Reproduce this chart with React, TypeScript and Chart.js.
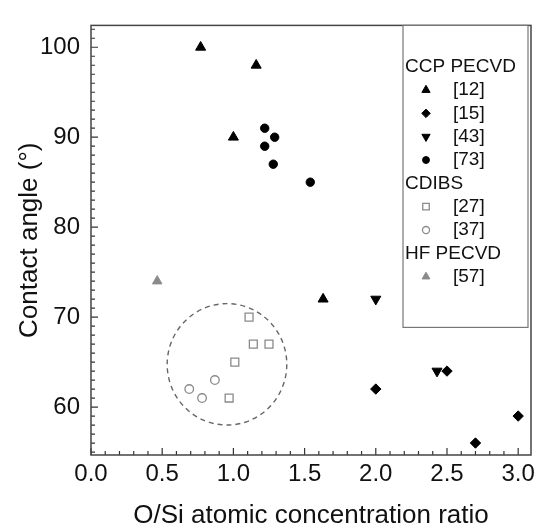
import { useEffect, useRef } from "react";
import { Chart, registerables } from "chart.js";
import { drawPoint } from "chart.js/helpers";

Chart.register(...registerables);

const FONT = "'Liberation Sans', Arial, sans-serif";

// Axis ticks
const xTickValues = [0, 0.5, 1.0, 1.5, 2.0, 2.5, 3.0];
const yTickValues = [60, 70, 80, 90, 100];
const xRange = [0, 3.09];
const yRange = [54.67, 102.43];

// Series values [O/Si ratio, contact angle]
const ccp12: [number, number][] = [[0.77, 100], [1.16, 98], [1.0, 90], [1.63, 72]];
const ccp15: [number, number][] = [[2.5, 64], [2.0, 62], [3.0, 59], [2.7, 56]];
const ccp43: [number, number][] = [[2.0, 72], [2.43, 64]];
const ccp73: [number, number][] = [[1.22, 91], [1.29, 90], [1.22, 89], [1.28, 87], [1.54, 85]];
const cdibs27: [number, number][] = [[1.11, 70], [1.14, 67], [1.25, 67], [1.01, 65], [0.97, 61]];
const cdibs37: [number, number][] = [[0.87, 63], [0.69, 62], [0.78, 61]];
const hf57: [number, number][] = [[0.465, 74]];

// Dashed cluster outline (centre and radii in data units)
const clusterCenter = [0.955, 64.75];
const clusterRadius = [0.42, 6.75];

// Legend text
const legendGroups = [
  { title: "CCP PECVD", refs: ["[12]", "[15]", "[43]", "[73]"] },
  { title: "CDIBS", refs: ["[27]", "[37]"] },
  { title: "HF PECVD", refs: ["[57]"] },
];

const GRAY = "#8a8a8a";

type Style = { pointStyle: string; radius: number; rotation: number; fill: string; stroke: string; borderWidth: number };

const styles: Record<string, Style> = {
  "[12]": { pointStyle: "triangle", radius: 5.8, rotation: 0, fill: "#000", stroke: "#000", borderWidth: 1 },
  "[15]": { pointStyle: "rectRot", radius: 5.2, rotation: 0, fill: "#000", stroke: "#000", borderWidth: 1 },
  "[43]": { pointStyle: "triangle", radius: 5.8, rotation: 180, fill: "#000", stroke: "#000", borderWidth: 1 },
  "[73]": { pointStyle: "circle", radius: 4.2, rotation: 0, fill: "#000", stroke: "#000", borderWidth: 1 },
  "[27]": { pointStyle: "rect", radius: 5.6, rotation: 0, fill: "#fff", stroke: GRAY, borderWidth: 1.3 },
  "[37]": { pointStyle: "circle", radius: 4.3, rotation: 0, fill: "#fff", stroke: GRAY, borderWidth: 1.3 },
  "[57]": { pointStyle: "triangle", radius: 5.5, rotation: 0, fill: GRAY, stroke: GRAY, borderWidth: 1 },
};

const seriesData: Record<string, [number, number][]> = {
  "[12]": ccp12,
  "[15]": ccp15,
  "[43]": ccp43,
  "[73]": ccp73,
  "[27]": cdibs27,
  "[37]": cdibs37,
  "[57]": hf57,
};

const framePlugin = {
  id: "frameTicks",
  beforeDatasetsDraw(chart: any) {
    const { ctx, chartArea, scales } = chart;
    // cluster ellipse
    const cx = scales.x.getPixelForValue(clusterCenter[0]);
    const cy = scales.y.getPixelForValue(clusterCenter[1]);
    const rx = Math.abs(scales.x.getPixelForValue(clusterCenter[0] + clusterRadius[0]) - cx);
    const ry = Math.abs(scales.y.getPixelForValue(clusterCenter[1] + clusterRadius[1]) - cy);
    ctx.save();
    ctx.strokeStyle = "#666";
    ctx.lineWidth = 1.4;
    ctx.setLineDash([5, 4]);
    ctx.beginPath();
    ctx.ellipse(cx, cy, rx, ry, 0, 0, Math.PI * 2);
    ctx.stroke();
    ctx.restore();
  },
  afterDraw(chart: any) {
    const { ctx, chartArea, scales } = chart;
    const { left, right, top, bottom } = chartArea;
    ctx.save();
    // inward ticks
    ctx.strokeStyle = "#333";
    ctx.lineWidth = 1.2;
    ctx.beginPath();
    for (let i = 0; i <= 31; i++) {
      const v = i / 10;
      if (v > xRange[1]) break;
      const px = scales.x.getPixelForValue(v);
      const len = i % 5 === 0 ? 7 : 4;
      ctx.moveTo(px, bottom);
      ctx.lineTo(px, bottom - len);
    }
    for (let v = Math.ceil(yRange[0]); v <= yRange[1]; v++) {
      const py = scales.y.getPixelForValue(v);
      const len = v % 10 === 0 ? 7 : 4;
      ctx.moveTo(left, py);
      ctx.lineTo(left + len, py);
    }
    ctx.stroke();
    // frame
    ctx.strokeStyle = "#444";
    ctx.lineWidth = 1.5;
    ctx.strokeRect(left, top, right - left, bottom - top);

    // legend box
    const bx = 403, by = top, bw = 125, bh = 302;
    ctx.fillStyle = "#fff";
    ctx.fillRect(bx, by, bw, bh);
    ctx.strokeStyle = "#777";
    ctx.lineWidth = 1.2;
    ctx.strokeRect(bx, by, bw, bh);
    ctx.fillStyle = "#111";
    ctx.font = `19px ${FONT}`;
    ctx.textBaseline = "middle";
    ctx.textAlign = "left";
    let y = 66.7;
    const step = 23.33;
    for (const g of legendGroups) {
      ctx.fillStyle = "#111";
      ctx.fillText(g.title, bx + 2, y);
      y += step;
      for (const r of g.refs) {
        const s = styles[r];
        ctx.fillStyle = s.fill;
        ctx.strokeStyle = s.stroke;
        ctx.lineWidth = s.borderWidth;
        drawPoint(ctx, { pointStyle: s.pointStyle as any, radius: s.radius * 0.82, rotation: s.rotation, borderWidth: s.borderWidth }, 426, y);
        ctx.fillStyle = "#111";
        ctx.fillText(r, 453, y);
        y += step;
      }
    }
    ctx.restore();
  },
};

export default function App() {
  const canvasRef = useRef<HTMLCanvasElement | null>(null);

  useEffect(() => {
    if (!canvasRef.current) return;
    const datasets = Object.keys(seriesData).map((k) => {
      const s = styles[k];
      return {
        label: k,
        data: seriesData[k].map(([x, y]) => ({ x, y })),
        pointStyle: s.pointStyle as any,
        pointRadius: s.radius,
        pointRotation: s.rotation,
        pointBackgroundColor: s.fill,
        pointBorderColor: s.stroke,
        pointBorderWidth: s.borderWidth,
        pointHoverRadius: s.radius,
      };
    });
    const chart = new Chart(canvasRef.current, {
      type: "scatter",
      data: { datasets },
      options: {
        animation: false,
        responsive: false,
        events: [],
        layout: { padding: { top: 16, right: 10, left: 0, bottom: 0 } },
        plugins: { legend: { display: false }, tooltip: { enabled: false } },
        scales: {
          x: {
            type: "linear",
            position: "bottom",
            min: xRange[0],
            max: xRange[1],
            grid: { display: false, drawTicks: false },
            border: { display: false },
            ticks: {
              font: { family: FONT, size: 24 },
              color: "#111",
              padding: 5,
              maxRotation: 0,
              autoSkip: false,
              callback: (v: any) => Number(v).toFixed(1),
            },
            afterBuildTicks: (s: any) => {
              s.ticks = xTickValues.map((value) => ({ value }));
            },
            afterFit: (s: any) => {
              s.height = 72;
            },
            title: {
              display: true,
              text: "O/Si atomic concentration ratio",
              font: { family: FONT, size: 26, lineHeight: 0.85 },
              color: "#111",
              padding: { top: 0, bottom: 0 },
            },
          },
          y: {
            type: "linear",
            position: "left",
            min: yRange[0],
            max: yRange[1],
            grid: { display: false, drawTicks: false },
            border: { display: false },
            ticks: {
              font: { family: FONT, size: 24 },
              color: "#111",
              padding: 11,
              autoSkip: false,
              callback: (v: any) => String(v),
            },
            afterBuildTicks: (s: any) => {
              s.ticks = yTickValues.map((value) => ({ value }));
            },
            afterFit: (s: any) => {
              s.width = 91;
            },
            title: {
              display: true,
              text: "Contact angle (°)",
              font: { family: FONT, size: 26, lineHeight: 1.2 },
              color: "#111",
              padding: { top: 14, bottom: 0 },
            },
          },
        },
      },
      plugins: [framePlugin],
    });
    return () => chart.destroy();
  }, []);

  return (
    <div style={{ position: "fixed", left: 0, top: 0, width: 541, height: 527, background: "#fff" }}>
      <canvas ref={canvasRef} width={541} height={527} style={{ width: 541, height: 527, display: "block" }} />
    </div>
  );
}
